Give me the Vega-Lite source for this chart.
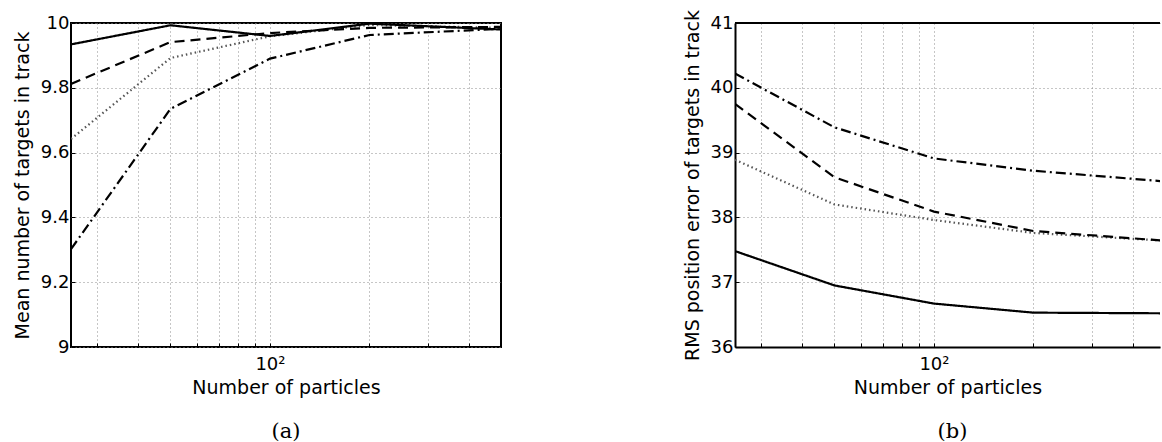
{
  "$schema": "https://vega.github.io/schema/vega-lite/v6.json",
  "padding": {"left": 12, "top": 9, "right": 0, "bottom": 0},
  "background": "white",
  "datasets": {
    "a": [
      {"n": 25, "v": 9.302, "s": "dashdot"},
      {"n": 50, "v": 9.735, "s": "dashdot"},
      {"n": 100, "v": 9.890, "s": "dashdot"},
      {"n": 200, "v": 9.963, "s": "dashdot"},
      {"n": 500, "v": 9.982, "s": "dashdot"},
      {"n": 25, "v": 9.642, "s": "dotted"},
      {"n": 50, "v": 9.892, "s": "dotted"},
      {"n": 100, "v": 9.959, "s": "dotted"},
      {"n": 200, "v": 9.994, "s": "dotted"},
      {"n": 500, "v": 9.985, "s": "dotted"},
      {"n": 25, "v": 9.812, "s": "dashed"},
      {"n": 50, "v": 9.941, "s": "dashed"},
      {"n": 100, "v": 9.969, "s": "dashed"},
      {"n": 200, "v": 9.985, "s": "dashed"},
      {"n": 500, "v": 9.988, "s": "dashed"},
      {"n": 25, "v": 9.934, "s": "solid"},
      {"n": 50, "v": 9.993, "s": "solid"},
      {"n": 100, "v": 9.960, "s": "solid"},
      {"n": 200, "v": 9.998, "s": "solid"},
      {"n": 500, "v": 9.980, "s": "solid"}
    ],
    "b": [
      {"n": 25, "v": 40.22, "s": "dashdot"},
      {"n": 50, "v": 39.39, "s": "dashdot"},
      {"n": 100, "v": 38.91, "s": "dashdot"},
      {"n": 200, "v": 38.72, "s": "dashdot"},
      {"n": 500, "v": 38.555, "s": "dashdot"},
      {"n": 25, "v": 38.89, "s": "dotted"},
      {"n": 50, "v": 38.20, "s": "dotted"},
      {"n": 100, "v": 37.96, "s": "dotted"},
      {"n": 200, "v": 37.76, "s": "dotted"},
      {"n": 500, "v": 37.64, "s": "dotted"},
      {"n": 25, "v": 39.75, "s": "dashed"},
      {"n": 50, "v": 38.62, "s": "dashed"},
      {"n": 100, "v": 38.09, "s": "dashed"},
      {"n": 200, "v": 37.79, "s": "dashed"},
      {"n": 500, "v": 37.64, "s": "dashed"},
      {"n": 25, "v": 37.48, "s": "solid"},
      {"n": 50, "v": 36.95, "s": "solid"},
      {"n": 100, "v": 36.67, "s": "solid"},
      {"n": 200, "v": 36.53, "s": "solid"},
      {"n": 500, "v": 36.52, "s": "solid"}
    ]
  },
  "spacing": 181,
  "hconcat": [
    {
      "width": 430,
      "height": 324,
      "view": {"stroke": "black", "strokeWidth": 2},
      "title": {"text": "(a)", "orient": "bottom", "font": "DejaVu Serif", "fontSize": 21, "fontWeight": "normal", "offset": 24, "color": "black"},
      "data": {"name": "a"},
      "mark": {"type": "line", "color": "black", "clip": true},
      "encoding": {
        "x": {
          "field": "n", "type": "quantitative",
          "scale": {"type": "log", "domain": [25, 500], "nice": false},
          "axis": {"values": [30, 40, 50, 60, 70, 80, 90, 100, 200, 300, 400], "labelExpr": "datum.value == 100 ? '10²' : ''", "title": "Number of particles", "domain": false}
        },
        "y": {
          "field": "v", "type": "quantitative",
          "scale": {"domain": [9, 10], "nice": false, "zero": false},
          "axis": {"values": [9, 9.2, 9.4, 9.6, 9.8, 10], "format": "~g", "title": "Mean number of targets in track", "domain": false}
        },
        "detail": {"field": "s"},
        "strokeDash": {"field": "s", "type": "nominal", "scale": {"domain": ["solid", "dashed", "dotted", "dashdot"], "range": [[1, 0], [10, 6], [1.5, 3], [10, 4, 2, 4]]}, "legend": null},
        "strokeWidth": {"field": "s", "type": "nominal", "scale": {"domain": ["solid", "dashed", "dotted", "dashdot"], "range": [2.2, 2.2, 1.2, 2.2]}, "legend": null},
        "color": {"field": "s", "type": "nominal", "scale": {"domain": ["solid", "dashed", "dotted", "dashdot"], "range": ["black", "black", "#555555", "black"]}, "legend": null}
      }
    },
    {
      "width": 425,
      "height": 324,
      "title": {"text": "(b)", "orient": "bottom", "font": "DejaVu Serif", "fontSize": 21, "fontWeight": "normal", "offset": 24, "color": "black", "dx": 5},
      "layer": [
        {
          "data": {"name": "b"},
          "mark": {"type": "line", "color": "black", "clip": true},
          "encoding": {
            "x": {
              "field": "n", "type": "quantitative",
              "scale": {"type": "log", "domain": [25, 483], "nice": false},
              "axis": {"values": [30, 40, 50, 60, 70, 80, 90, 100, 200, 300, 400], "labelExpr": "datum.value == 100 ? '10²' : ''", "title": "Number of particles"}
            },
            "y": {
              "field": "v", "type": "quantitative",
              "scale": {"domain": [36, 41], "nice": false, "zero": false},
              "axis": {"values": [36, 37, 38, 39, 40, 41], "format": "~g", "title": "RMS position error of targets in track"}
            },
            "detail": {"field": "s"},
            "strokeDash": {"field": "s", "type": "nominal", "scale": {"domain": ["solid", "dashed", "dotted", "dashdot"], "range": [[1, 0], [10, 6], [1.5, 3], [10, 4, 2, 4]]}, "legend": null},
            "strokeWidth": {"field": "s", "type": "nominal", "scale": {"domain": ["solid", "dashed", "dotted", "dashdot"], "range": [2.2, 2.2, 1.2, 2.2]}, "legend": null},
            "color": {"field": "s", "type": "nominal", "scale": {"domain": ["solid", "dashed", "dotted", "dashdot"], "range": ["black", "black", "#555555", "black"]}, "legend": null}
          }
        },
        {
          "data": {"values": [{}]},
          "mark": {"type": "rule", "color": "black", "strokeWidth": 2},
          "encoding": {"y": {"datum": 41}}
        }
      ]
    }
  ],
  "config": {
    "view": {"stroke": null},
    "axis": {
      "labelFont": "DejaVu Sans", "labelFontSize": 18, "labelColor": "black", "labelPadding": 6,
      "titleFont": "DejaVu Sans", "titleFontSize": 19, "titleFontWeight": "normal", "titleColor": "black",
      "domainColor": "black", "domainWidth": 2,
      "ticks": true, "tickColor": "black", "tickSize": -4, "tickWidth": 1,
      "grid": true, "gridColor": "#8c8c8c", "gridDash": [1, 3], "gridWidth": 1, "gridOpacity": 1
    },
    "axisX": {"labelPadding": 12, "titlePadding": 5},
    "axisY": {"titlePadding": 8}
  }
}
